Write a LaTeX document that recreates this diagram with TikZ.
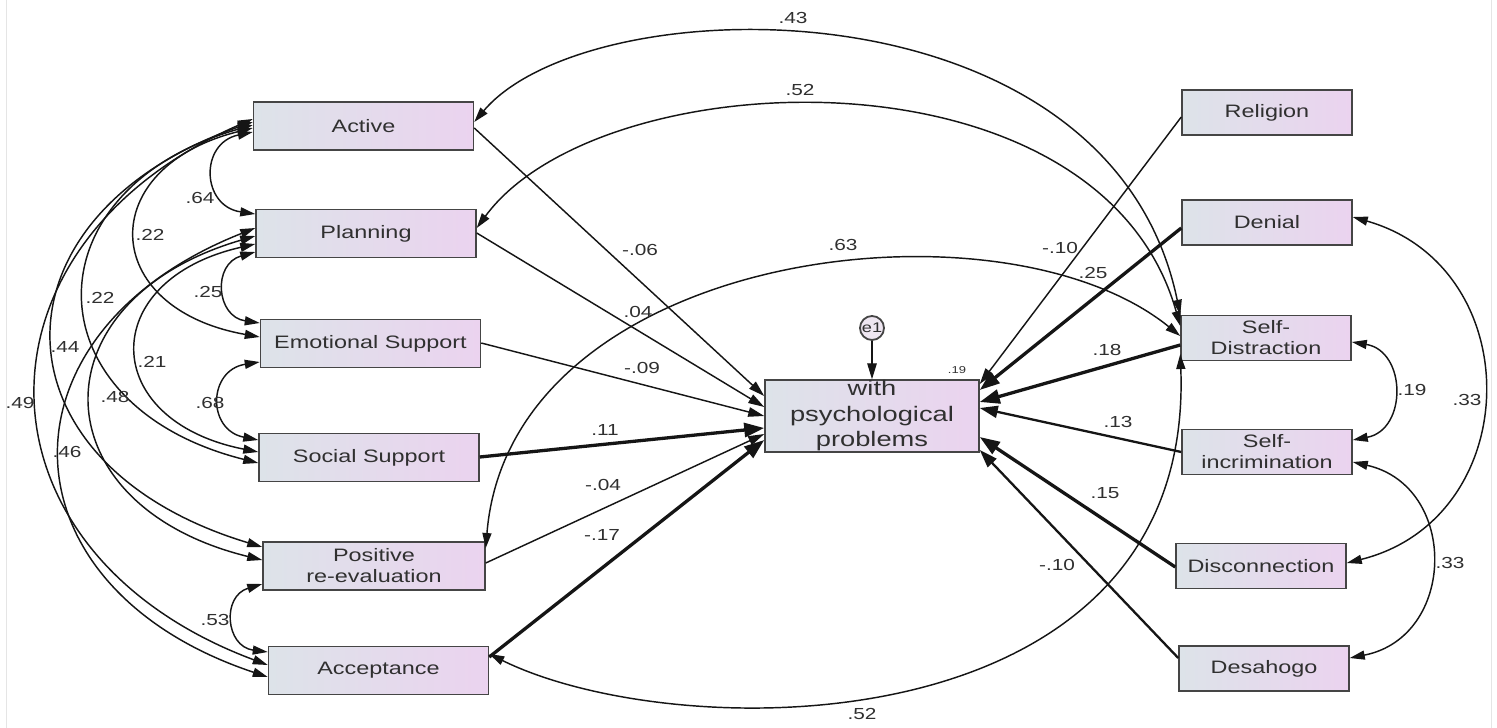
\documentclass[tikz,border=0pt]{standalone}
\usepackage{fontspec}
\setmainfont{Liberation Sans}
\newfontfamily\bxf[FakeStretch=1.3]{Liberation Sans}
\usetikzlibrary{arrows.meta}
\definecolor{boxL}{HTML}{DDE3E9}
\definecolor{boxR}{HTML}{EBD3EF}
\definecolor{boxline}{HTML}{454545}
\definecolor{txt}{HTML}{303030}
\definecolor{ln}{HTML}{151515}
\definecolor{efill}{HTML}{EEE6F1}
\tikzset{
 box/.style={draw=boxline, line width=1.5pt, left color=boxL, right color=boxR, inner sep=0pt, align=center, text=txt, font=\bxf\fontsize{18}{21}\selectfont},
 lbox/.style={box, minimum width=220pt, minimum height=48pt},
 rbox/.style={box, minimum width=170pt, minimum height=45pt},
 lab/.style={text=txt, font=\bxf\fontsize{16}{16}\selectfont, inner sep=0pt},
 cor/.style={draw=ln, {Triangle[length=15pt,width=9pt]}-{Triangle[length=15pt,width=9pt]}, line width=1.45pt},
 reg/.style={draw=ln, -{Triangle[length=16pt,width=9.5pt]}, line width=1.45pt},
 regM/.style={draw=ln, -{Triangle[length=18pt,width=12pt]}, line width=2.3pt},
 regT/.style={draw=ln, -{Triangle[length=20pt,width=14pt]}, line width=3.3pt},
}
\begin{document}
\begin{tikzpicture}[x=1pt,y=-1pt]
\useasboundingbox (0,0) rectangle (1497,728);
\fill[white] (0,0) rectangle (1497,728);
\draw[black!10, line width=1pt] (6,0) -- (6,728) (1491,0) -- (1491,728);

% left boxes
\node[lbox] (act) at (363.5,126) {Active};
\node[lbox] (pla) at (366,233.5) {Planning};
\node[lbox] (emo) at (370.5,343.5) {Emotional Support};
\node[lbox] (soc) at (369,457.5) {Social Support};
\node[lbox, minimum width=222pt] (pos) at (374,566) {Positive\\re-evaluation};
\node[lbox] (acc) at (378.5,670.5) {Acceptance};
% dependent
\node[box, minimum width=214pt, minimum height=72pt, font=\bxf\fontsize{21}{25.5}\selectfont] (dep) at (872,416) {with\\psychological\\problems};
\node[draw=boxline, line width=1.8pt, circle, fill=efill, minimum size=24pt, inner sep=0pt, text=txt, font=\bxf\fontsize{14}{14}\selectfont] (e1) at (872,328) {e1};
\node[lab, font=\bxf\fontsize{10}{10}\selectfont] (r2) at (957,370) {.19};
% right boxes
\node[rbox] (rel) at (1267,112.5) {Religion};
\node[rbox] (den) at (1267,222.5) {Denial};
\node[rbox] (sdi) at (1266,338) {Self-\\Distraction};
\node[rbox] (sin) at (1267,452) {Self-\\incrimination};
\node[rbox] (dis) at (1261,566) {Disconnection};
\node[rbox] (des) at (1264,668.5) {Desahogo};

% error arrow
\draw[reg] (e1) -- (dep.north);

% left correlations
\draw[cor] (act.west|-0,132) to[bend right=80, looseness=1.7] (pla.west|-0,214);
\draw[cor] (pla.west|-0,252) to[bend right=78, looseness=1.6] (emo.west|-0,323);
\draw[cor] (emo.west|-0,362) to[bend right=80, looseness=1.72] (soc.west|-0,440);
\draw[cor] (pos.west|-0,584) to[bend right=78, looseness=1.6] (acc.west|-0,652);
\draw[cor] (act.west|-0,128) to[bend right=78, looseness=2.0] (emo.west|-0,337);
\draw[cor] (pla.west|-0,244) to[bend right=78, looseness=2.0] (soc.west|-0,452);
\draw[cor] (act.west|-0,125) to[bend right=75, looseness=1.78] (soc.west|-0,463);
\draw[cor] (pla.west|-0,236) to[bend right=75, looseness=1.82] (pos.west|-0,560);
\draw[cor] (act.west|-0,122) to[bend right=72, looseness=1.72] (pos.west|-0,547);
\draw[cor] (pla.west|-0,228) to[bend right=70, looseness=1.62] (acc.west|-0,677);
\draw[cor] (act.west|-0,119) to[bend right=68, looseness=1.5] (acc.west|-0,665);

% long correlations
\draw[cor] (act.east|-0,122) .. controls (590,-15) and (1110,-25) .. (sdi.north west);
\draw[cor] (pla.east|-0,228) .. controls (600,60) and (1100,40) .. (sdi.west|-0,326);
\draw[cor] (pos.east|-0,548) .. controls (510,250) and (1000,190) .. (sdi.west|-0,336);
\draw[cor] (acc.east|-0,654) .. controls (680,748) and (1195,748) .. (sdi.west|-0,354);

% right correlations
\draw[cor] (sdi.east|-0,342) to[bend left=80, looseness=1.45] (sin.east|-0,440);
\draw[cor] (den.east|-0,217) to[bend left=75, looseness=1.36] (dis.east|-0,563);
\draw[cor] (sin.east|-0,462) to[bend left=78, looseness=1.42] (des.east|-0,658);

% left regressions
\draw[reg] (act.east|-0,128) -- (dep.west|-0,396);
\draw[reg] (pla.east|-0,233) -- (dep.west|-0,407);
\draw[reg] (emo.east|-0,343) -- (dep.west|-0,416);
\draw[regT] (soc.east|-0,457) -- (dep.west|-0,428);
\draw[reg] (pos.east|-0,563) -- (dep.west|-0,434);
\draw[regT] (acc.east|-0,657) -- (dep.west|-0,440);
% right regressions
\draw[reg] (rel.west|-0,117) -- (dep.east|-0,384);
\draw[regT] (den.west|-0,228) -- (dep.east|-0,390);
\draw[regT] (sdi.west|-0,345) -- (dep.east|-0,402);
\draw[regM] (sin.west|-0,452) -- (dep.east|-0,408);
\draw[regT] (dis.west|-0,567) -- (dep.east|-0,437);
\draw[regM] (des.west|-0,658) -- (dep.east|-0,450);

% labels
\node[lab] (l43) at (793,18) {.43};
\node[lab] (l52a) at (800,90) {.52};
\node[lab] (l63) at (843,245) {.63};
\node[lab] (l52b) at (862,714) {.52};
\node[lab] (la1) at (640,250) {-.06};
\node[lab] (la2) at (638,312) {.04};
\node[lab] (la3) at (642,368) {-.09};
\node[lab] (la4) at (605,430) {.11};
\node[lab] (la5) at (603,485) {-.04};
\node[lab] (la6) at (602,535) {-.17};
\node[lab] (lb1) at (1060,248) {-.10};
\node[lab] (lb2) at (1093,273) {.25};
\node[lab] (lb3) at (1107,350) {.18};
\node[lab] (lb4) at (1118,422) {.13};
\node[lab] (lb5) at (1105,493) {.15};
\node[lab] (lb6) at (1057,565) {-.10};
\node[lab] (lc1) at (1412,390) {.19};
\node[lab] (lc2) at (1467,400) {.33};
\node[lab] (lc3) at (1450,563) {.33};
\node[lab] (ld1) at (200,198) {.64};
\node[lab] (ld2) at (150,235) {.22};
\node[lab] (ld3) at (100,298) {.22};
\node[lab] (ld4) at (65,347) {.44};
\node[lab] (ld5) at (20,403) {.49};
\node[lab] (ld6) at (115,397) {.48};
\node[lab] (ld7) at (152,362) {.21};
\node[lab] (ld8) at (208,292) {.25};
\node[lab] (ld9) at (210,403) {.68};
\node[lab] (ld10) at (67,452) {.46};
\node[lab] (ld11) at (215,620) {.53};
\end{tikzpicture}
\end{document}
